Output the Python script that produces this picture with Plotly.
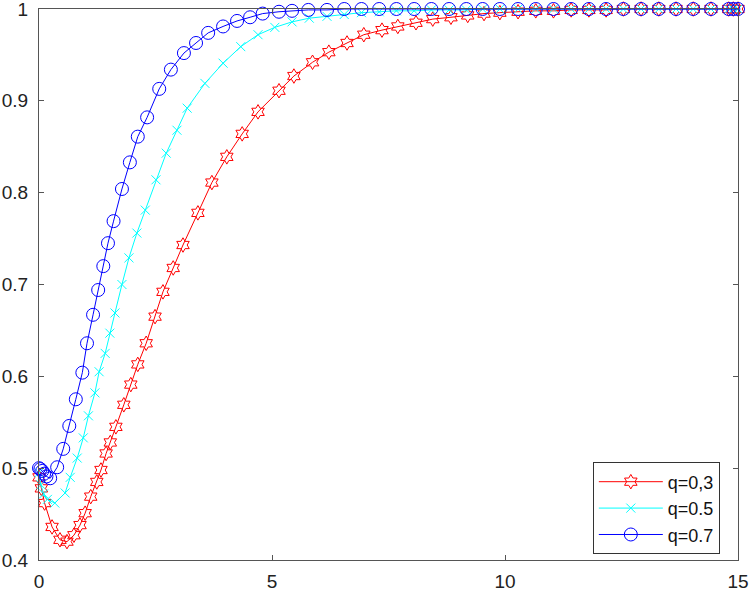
import plotly.graph_objects as go

# tail of the time grid shared by all three curves
t_tail = [9.89, 10.28, 10.66, 11.04, 11.42, 11.80, 12.17, 12.54, 12.92,
          13.30, 13.67, 14.04, 14.42, 14.80, 14.90, 15.0]

x_q3 = [0, 0.05, 0.12, 0.28, 0.45, 0.60, 0.75, 0.88, 0.99, 1.11, 1.24, 1.33,
        1.44, 1.53, 1.65, 1.82, 1.97, 2.12, 2.30, 2.49, 2.66, 2.88, 3.09,
        3.41, 3.71, 4.03, 4.36, 4.70, 5.15, 5.47, 5.87, 6.22, 6.61, 6.97,
        7.36, 7.70, 8.09, 8.45, 8.84, 9.20, 9.55] + t_tail
y_q3 = [0.490, 0.478, 0.462, 0.436, 0.422, 0.420, 0.427, 0.438, 0.451, 0.469,
        0.485, 0.498, 0.516, 0.528, 0.545, 0.569, 0.591, 0.613, 0.636, 0.665,
        0.692, 0.718, 0.743, 0.778, 0.811, 0.839, 0.864, 0.888, 0.911, 0.927,
        0.942, 0.953, 0.963, 0.972, 0.977, 0.981, 0.985, 0.989, 0.991, 0.993,
        0.995, 0.996, 0.997, 0.998, 0.998, 0.999, 0.999, 0.999, 1.0, 1.0,
        1.0, 1.0, 1.0, 1.0, 1.0, 1.0, 1.0]

x_q5 = [0, 0.04, 0.10, 0.18, 0.34, 0.56, 0.67, 0.82, 0.95, 1.06, 1.20, 1.29,
        1.42, 1.52, 1.63, 1.78, 1.93, 2.10, 2.28, 2.51, 2.73, 2.96, 3.18,
        3.56, 3.95, 4.33, 4.70, 5.06, 5.43, 5.80, 6.18, 6.55, 6.92, 7.30,
        7.67, 8.05, 8.42, 8.80, 9.17, 9.52] + t_tail
y_q5 = [0.495, 0.482, 0.472, 0.466, 0.462, 0.473, 0.490, 0.511, 0.533, 0.557,
        0.582, 0.605, 0.625, 0.647, 0.669, 0.700, 0.729, 0.756, 0.781, 0.814,
        0.843, 0.868, 0.892, 0.919, 0.941, 0.959, 0.972, 0.980, 0.986, 0.990,
        0.992, 0.994, 0.996, 0.997, 0.998, 0.998, 0.999, 0.999, 0.999, 1.0,
        1.0, 1.0, 1.0, 1.0, 1.0, 1.0, 1.0, 1.0, 1.0, 1.0, 1.0, 1.0, 1.0,
        1.0, 1.0, 1.0]

x_q7 = [0, 0.03, 0.07, 0.11, 0.16, 0.24, 0.39, 0.52, 0.65, 0.79, 0.93, 1.03,
        1.16, 1.27, 1.38, 1.48, 1.60, 1.78, 1.95, 2.12, 2.32, 2.58, 2.83,
        3.11, 3.37, 3.63, 3.95, 4.25, 4.53, 4.80, 5.15, 5.43, 5.78, 6.18,
        6.55, 6.92, 7.30, 7.67, 8.05, 8.42, 8.80, 9.17, 9.52] + t_tail
y_q7 = [0.500, 0.499, 0.497, 0.494, 0.491, 0.489, 0.501, 0.521, 0.546, 0.575,
        0.604, 0.636, 0.667, 0.694, 0.720, 0.745, 0.769, 0.804, 0.833, 0.861,
        0.882, 0.913, 0.934, 0.952, 0.963, 0.974, 0.981, 0.987, 0.991, 0.995,
        0.997, 0.998, 0.999, 0.999, 1.0, 1.0, 1.0, 1.0, 1.0, 1.0, 1.0, 1.0,
        1.0, 1.0, 1.0, 1.0, 1.0, 1.0, 1.0, 1.0, 1.0, 1.0, 1.0, 1.0, 1.0,
        1.0, 1.0, 1.0, 1.0]

x_ticks = [0, 5, 10, 15]
y_ticks = [0.4, 0.5, 0.6, 0.7, 0.8, 0.9, 1.0]
y_tick_labels = ['0.4', '0.5', '0.6', '0.7', '0.8', '0.9', '1']

series = [
    ('q=0,3', x_q3, y_q3, '#ff0000', 'hexagram-open', 11),
    ('q=0.5', x_q5, y_q5, '#00ffff', 'x-thin-open', 9),
    ('q=0.7', x_q7, y_q7, '#0000ff', 'circle-open', 13),
]

fig = go.Figure()
for name, xs, ys, col, sym, sz in series:
    fig.add_trace(go.Scatter(
        x=xs, y=ys, name=name, mode='lines+markers',
        line=dict(color=col, width=1),
        marker=dict(symbol=sym, size=sz, color=col, line=dict(color=col, width=1)),
        cliponaxis=False,
    ))

axis_style = dict(
    showline=True, linecolor='#555555', linewidth=1, mirror='ticks',
    ticks='inside', ticklen=5, tickcolor='#555555', showgrid=False,
    zeroline=False, automargin=False, ticklabeloverflow='allow',
    tickfont=dict(family='Liberation Sans, Arial', size=19, color='#222222'),
)

fig.update_layout(
    width=750, height=593,
    margin=dict(l=39, r=12, t=9, b=33),
    paper_bgcolor='white', plot_bgcolor='white',
    showlegend=True,
    legend=dict(
        x=0.974, y=0.01, xanchor='right', yanchor='bottom',
        bgcolor='white', bordercolor='#333333', borderwidth=1,
        font=dict(family='Liberation Sans, Arial', size=18, color='#111111'),
        itemwidth=64, tracegroupgap=0,
    ),
)
fig.update_xaxes(range=[0, 15], tickvals=x_ticks, ticklabelstandoff=4, **axis_style)
fig.update_yaxes(range=[0.4, 1], tickvals=y_ticks, ticktext=y_tick_labels,
                 ticklabelstandoff=6, **axis_style)

# drop the default page margin so the 750x593 figure fills the window
fig.write_html("out.html", config={'displayModeBar': False},
               post_script="document.body.style.margin='0px';")
